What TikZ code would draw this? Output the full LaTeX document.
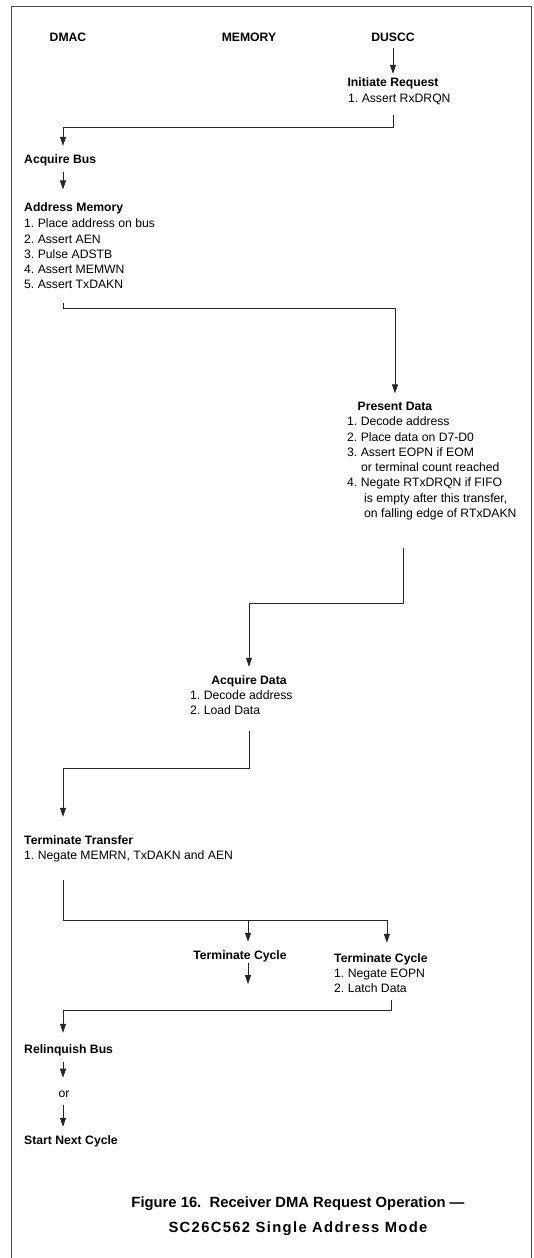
\documentclass[tikz,border=0pt]{standalone}
\usepackage{fontspec}
\setmainfont{Liberation Sans}
\usetikzlibrary{arrows.meta,calc}

\begin{document}
\begin{tikzpicture}[x=1pt,y=-1pt,note/.style={font=\fontsize{12.2}{15.3}\selectfont\frenchspacing, inner sep=0pt, align=left},head/.style={font=\fontsize{12.2}{15.3}\selectfont\bfseries, inner sep=0pt},flow/.style={draw=black!85, line width=0.7pt, -{Triangle[length=9pt,width=6pt]}},frame/.style={draw=black!70, line width=0.8pt},caption/.style={font=\fontsize{14.8}{25}\selectfont\bfseries\frenchspacing, inner sep=0pt, align=center}]
\useasboundingbox (0,0) rectangle (533,1258);
\draw[frame] (11,1258) -- (11,6) -- (531,6) -- (531,1258);
\coordinate (laneA) at (63,0);
\coordinate (laneM) at (248,0);
\foreach \x/\t in {68/DMAC,249/MEMORY,393/DUSCC} {\node[head, anchor=base] (\t) at (\x,41.5) {\t};}
\node[head, anchor=base] (initreq) at (393,86.5) {Initiate Request};
\node[note, anchor=north west] (initreq-l) at (348,93.7) {1. Assert RxDRQN};
\node[head, anchor=base west] (acqbus) at (24,163.5) {Acquire Bus};
\node[head, anchor=base west] (addrmem) at (24,211.5) {Address Memory};
\node[note, anchor=north west] (addrmem-l) at (24,218.7) {1. Place address on bus\\2. Assert AEN\\3. Pulse ADSTB\\4. Assert MEMWN\\5. Assert TxDAKN};
\node[head, anchor=base] (pdata) at (395,410) {Present Data};
\node[note, anchor=north west] (pdata-l) at (347,416.7) {1. Decode address\\2. Place data on D7-D0\\3. Assert EOPN if EOM\\\hspace*{14pt}or terminal count reached\\4. Negate RTxDRQN if FIFO\\\hspace*{17pt}is empty after this transfer,\\\hspace*{17pt}on falling edge of RTxDAKN};
\node[head, anchor=base] (acqdata) at (249,684.4) {Acquire Data};
\node[note, anchor=north west] (acqdata-l) at (190,690.6) {1. Decode address\\2. Load Data};
\node[head, anchor=base west] (termtr) at (24,844.4) {Terminate Transfer};
\node[note, anchor=north west] (termtr-l) at (24,850.6) {1. Negate MEMRN, TxDAKN and AEN};
\node[head, anchor=base] (termcycm) at (240,959.4) {Terminate Cycle};
\node[head, anchor=base west] (termcycd) at (334,962.4) {Terminate Cycle};
\node[note, anchor=north west] (termcycd-l) at (334,968.6) {1. Negate EOPN\\2. Latch Data};
\node[head, anchor=base west] (relbus) at (24,1053.4) {Relinquish Bus};
\node[note, anchor=base] (or) at (64,1097) {or};
\node[head, anchor=base west] (nextcyc) at (24,1144.4) {Start Next Cycle};
\node[caption, anchor=north] (fig) at (298,1196.7) {Figure 16.\ \ Receiver DMA Request Operation —\\{\addfontfeature{LetterSpace=9}SC26C562 Single Address Mode}};
\draw[flow, shorten <=6.5pt, shorten >=3.7pt] (DUSCC) -- (initreq);
\draw[flow, shorten <=9.7pt, shorten >=8.7pt] (initreq-l.south -| initreq) -- ++(0,22.7) -| (acqbus.north -| laneA);
\draw[flow, shorten <=6pt, shorten >=13pt] (acqbus.south -| laneA) -- (addrmem.north -| laneA);
\draw[flow, shorten <=13.3pt, shorten >=8pt] (addrmem-l.south -| laneA) -- ++(0,19.3) -| (pdata);
\draw[flow, shorten <=28pt, shorten >=8.6pt] ($(pdata-l.south -| pdata)+(8,0)$) -- ++(0,83.1) -| (acqdata);
\draw[flow, shorten <=15.3pt, shorten >=18.6pt] (acqdata-l.south -| acqdata) -- ++(0,53.3) -| (termtr.north -| laneA);
\draw[flow, shorten <=18pt, shorten >=10.6pt] (termtr-l.south -| laneA) -- ++(0,58) coordinate (split) -| ([xshift=6pt]termcycd.north);
\draw[flow, shorten >=8.6pt] (split -| laneM) -- (termcycm.north -| laneM);
\draw[flow, shorten <=1pt] (termcycm.south -| laneM) -- ++(0,22);
\draw[flow, shorten <=7.3pt, shorten >=11.6pt] ($(termcycd-l.south -| termcycd)+(10,0)$) -- ++(0,17.3) -| (relbus.north -| laneA);
\draw[flow, shorten <=6pt, shorten >=12.5pt] (relbus.south -| laneA) -- (or.north -| laneA);
\draw[flow, shorten <=8pt, shorten >=8.6pt] (or.south -| laneA) -- (nextcyc.north -| laneA);
\end{tikzpicture}
\end{document}
